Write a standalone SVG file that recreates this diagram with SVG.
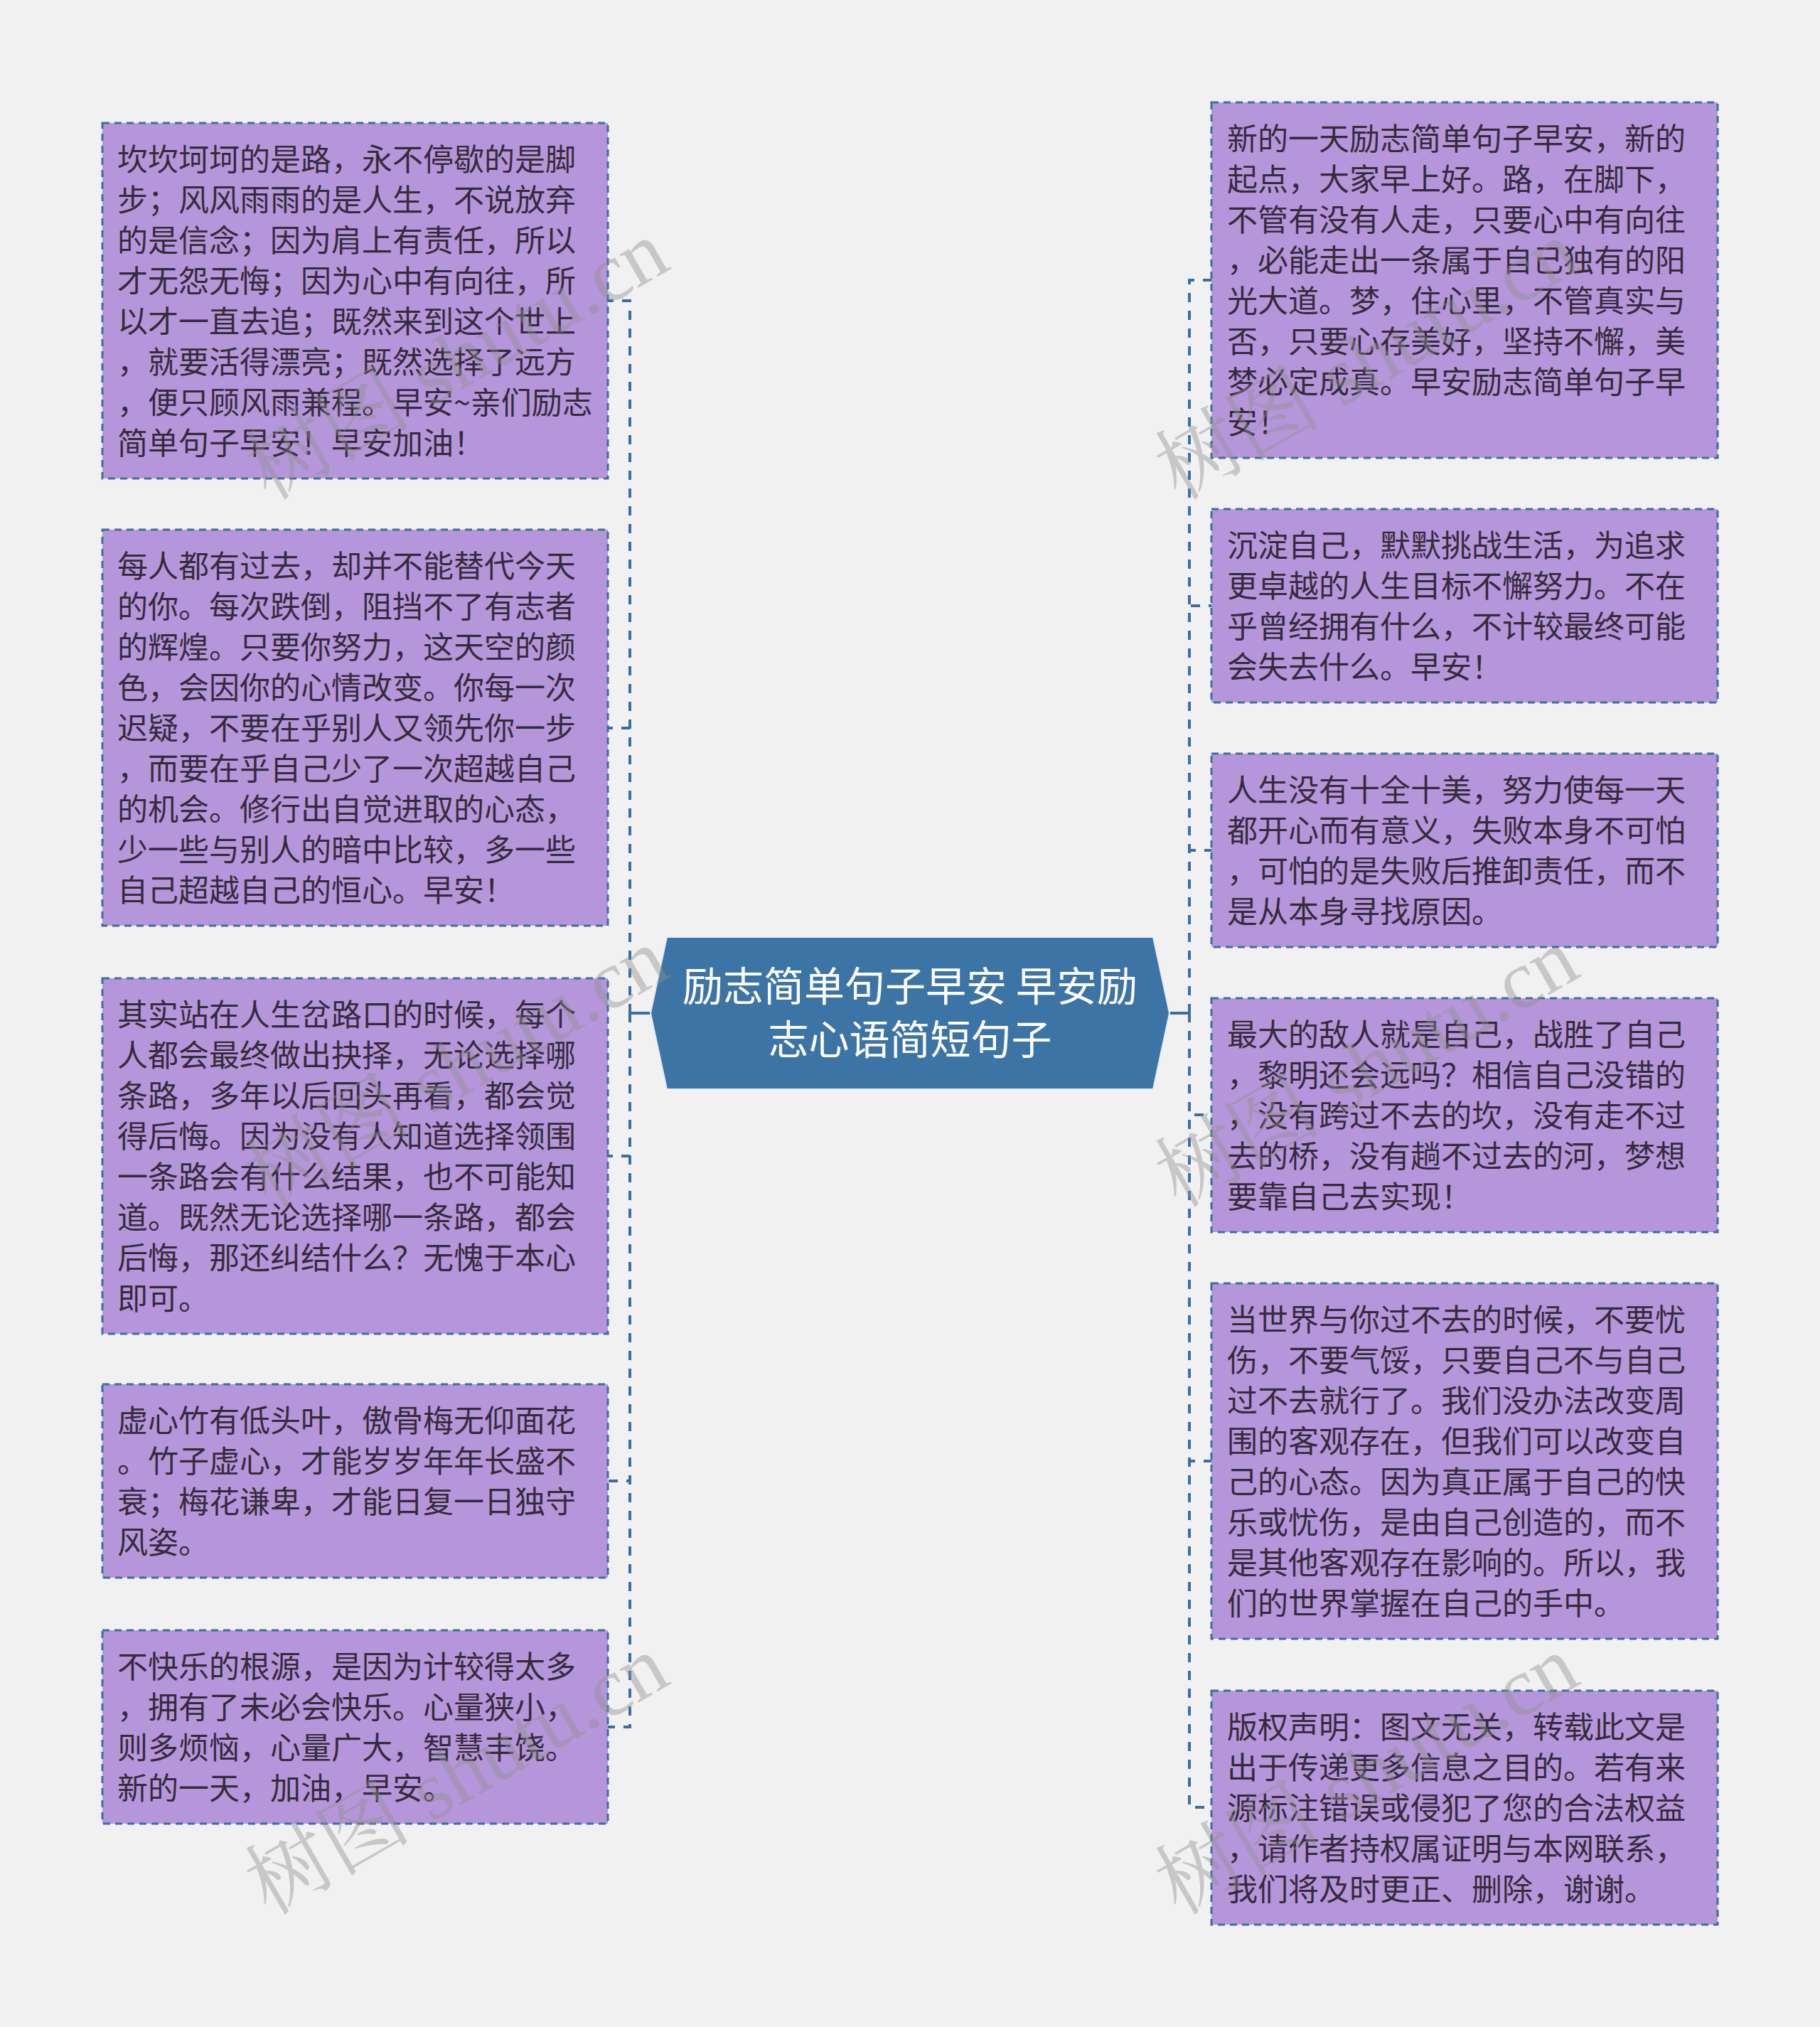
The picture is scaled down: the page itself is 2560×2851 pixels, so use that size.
<svg xmlns="http://www.w3.org/2000/svg" width="2560" height="2851" viewBox="0 0 2560 2851">
<style>
.bg{fill:#f1f1f1}
.node rect{fill:#b696da;stroke:#3d6f9e;stroke-width:3;stroke-dasharray:10 7}
.node text{font-family:"Noto Sans CJK SC","Noto Sans",sans-serif;font-size:43px;fill:#352b3c}
.center polygon{fill:#3d74a6;stroke:#e4edf5;stroke-width:2}
.center text{font-family:"Noto Sans CJK SC","Noto Sans",sans-serif;font-size:57px;fill:#ffffff;text-anchor:middle}
.conn path{fill:none;stroke:#3d6f9e;stroke-width:4;stroke-dasharray:13 12}
.conn .solid{stroke-dasharray:none}
.wm{font-family:"Liberation Serif","Noto Serif CJK SC","Noto Sans CJK SC",serif;font-size:117px;fill:#8f8f8f;opacity:0.42}
</style>
<rect class="bg" x="0" y="0" width="2560" height="2851"/>

<g id="connectors" class="conn">
<path class="solid" d="M915 1425 H886"/>
<path d="M886 1425 V423 H855"/>
<path d="M886 1425 V1024 H855"/>
<path d="M886 1425 V1626 H855"/>
<path d="M886 1425 V2083 H855"/>
<path d="M886 1425 V2429 H855"/>
<path class="solid" d="M1645 1425 H1673"/>
<path d="M1673 1425 V394 H1704"/>
<path d="M1673 1425 V852 H1704"/>
<path d="M1673 1425 V1196 H1704"/>
<path d="M1673 1425 V1568 H1704"/>
<path d="M1673 1425 V2055 H1704"/>
<path d="M1673 1425 V2542 H1704"/>
</g>

<g id="center" class="center">
<polygon points="915,1425 938,1318 1622,1318 1645,1425 1622,1532 938,1532"/>
<text x="1280" y="1408">励志简单句子早安 早安励</text>
<text x="1280" y="1483">志心语简短句子</text>
</g>

<g id="left1" class="node">
<rect x="144" y="173" width="711" height="500"/>
<text x="165" y="240">坎坎坷坷的是路，永不停歇的是脚</text>
<text x="165" y="297">步；风风雨雨的是人生，不说放弃</text>
<text x="165" y="354">的是信念；因为肩上有责任，所以</text>
<text x="165" y="411">才无怨无悔；因为心中有向往，所</text>
<text x="165" y="468">以才一直去追；既然来到这个世上</text>
<text x="165" y="525">，就要活得漂亮；既然选择了远方</text>
<text x="165" y="582">，便只顾风雨兼程。早安~亲们励志</text>
<text x="165" y="639">简单句子早安！早安加油！</text>
</g>

<g id="left2" class="node">
<rect x="144" y="745" width="711" height="557"/>
<text x="165" y="812">每人都有过去，却并不能替代今天</text>
<text x="165" y="869">的你。每次跌倒，阻挡不了有志者</text>
<text x="165" y="926">的辉煌。只要你努力，这天空的颜</text>
<text x="165" y="983">色，会因你的心情改变。你每一次</text>
<text x="165" y="1040">迟疑，不要在乎别人又领先你一步</text>
<text x="165" y="1097">，而要在乎自己少了一次超越自己</text>
<text x="165" y="1154">的机会。修行出自觉进取的心态，</text>
<text x="165" y="1211">少一些与别人的暗中比较，多一些</text>
<text x="165" y="1268">自己超越自己的恒心。早安！</text>
</g>

<g id="left3" class="node">
<rect x="144" y="1376" width="711" height="500"/>
<text x="165" y="1443">其实站在人生岔路口的时候，每个</text>
<text x="165" y="1500">人都会最终做出抉择，无论选择哪</text>
<text x="165" y="1557">条路，多年以后回头再看，都会觉</text>
<text x="165" y="1614">得后悔。因为没有人知道选择领围</text>
<text x="165" y="1671">一条路会有什么结果，也不可能知</text>
<text x="165" y="1728">道。既然无论选择哪一条路，都会</text>
<text x="165" y="1785">后悔，那还纠结什么？无愧于本心</text>
<text x="165" y="1842">即可。</text>
</g>

<g id="left4" class="node">
<rect x="144" y="1947" width="711" height="272"/>
<text x="165" y="2014">虚心竹有低头叶，傲骨梅无仰面花</text>
<text x="165" y="2071">。竹子虚心，才能岁岁年年长盛不</text>
<text x="165" y="2128">衰；梅花谦卑，才能日复一日独守</text>
<text x="165" y="2185">风姿。</text>
</g>

<g id="left5" class="node">
<rect x="144" y="2293" width="711" height="272"/>
<text x="165" y="2360">不快乐的根源，是因为计较得太多</text>
<text x="165" y="2417">，拥有了未必会快乐。心量狭小，</text>
<text x="165" y="2474">则多烦恼，心量广大，智慧丰饶。</text>
<text x="165" y="2531">新的一天，加油，早安。</text>
</g>

<g id="right1" class="node">
<rect x="1704" y="144" width="712" height="500"/>
<text x="1726" y="211">新的一天励志简单句子早安，新的</text>
<text x="1726" y="268">起点，大家早上好。路，在脚下，</text>
<text x="1726" y="325">不管有没有人走，只要心中有向往</text>
<text x="1726" y="382">，必能走出一条属于自己独有的阳</text>
<text x="1726" y="439">光大道。梦，住心里，不管真实与</text>
<text x="1726" y="496">否，只要心存美好，坚持不懈，美</text>
<text x="1726" y="553">梦必定成真。早安励志简单句子早</text>
<text x="1726" y="610">安！</text>
</g>

<g id="right2" class="node">
<rect x="1704" y="716" width="712" height="272"/>
<text x="1726" y="783">沉淀自己，默默挑战生活，为追求</text>
<text x="1726" y="840">更卓越的人生目标不懈努力。不在</text>
<text x="1726" y="897">乎曾经拥有什么，不计较最终可能</text>
<text x="1726" y="954">会失去什么。早安！</text>
</g>

<g id="right3" class="node">
<rect x="1704" y="1060" width="712" height="272"/>
<text x="1726" y="1127">人生没有十全十美，努力使每一天</text>
<text x="1726" y="1184">都开心而有意义，失败本身不可怕</text>
<text x="1726" y="1241">，可怕的是失败后推卸责任，而不</text>
<text x="1726" y="1298">是从本身寻找原因。</text>
</g>

<g id="right4" class="node">
<rect x="1704" y="1404" width="712" height="329"/>
<text x="1726" y="1471">最大的敌人就是自己，战胜了自己</text>
<text x="1726" y="1528">，黎明还会远吗？相信自己没错的</text>
<text x="1726" y="1585">，没有跨过不去的坎，没有走不过</text>
<text x="1726" y="1642">去的桥，没有趟不过去的河，梦想</text>
<text x="1726" y="1699">要靠自己去实现！</text>
</g>

<g id="right5" class="node">
<rect x="1704" y="1805" width="712" height="500"/>
<text x="1726" y="1872">当世界与你过不去的时候，不要忧</text>
<text x="1726" y="1929">伤，不要气馁，只要自己不与自己</text>
<text x="1726" y="1986">过不去就行了。我们没办法改变周</text>
<text x="1726" y="2043">围的客观存在，但我们可以改变自</text>
<text x="1726" y="2100">己的心态。因为真正属于自己的快</text>
<text x="1726" y="2157">乐或忧伤，是由自己创造的，而不</text>
<text x="1726" y="2214">是其他客观存在影响的。所以，我</text>
<text x="1726" y="2271">们的世界掌握在自己的手中。</text>
</g>

<g id="right6" class="node">
<rect x="1704" y="2378" width="712" height="329"/>
<text x="1726" y="2445">版权声明：图文无关，转载此文是</text>
<text x="1726" y="2502">出于传递更多信息之目的。若有来</text>
<text x="1726" y="2559">源标注错误或侵犯了您的合法权益</text>
<text x="1726" y="2616">，请作者持权属证明与本网联系，</text>
<text x="1726" y="2673">我们将及时更正、删除，谢谢。</text>
</g>

<g id="watermarks">
<text class="wm" transform="translate(378,705) rotate(-30)">树图 shutu.cn</text>
<text class="wm" transform="translate(1658,705) rotate(-30)">树图 shutu.cn</text>
<text class="wm" transform="translate(378,1700) rotate(-30)">树图 shutu.cn</text>
<text class="wm" transform="translate(1658,1700) rotate(-30)">树图 shutu.cn</text>
<text class="wm" transform="translate(378,2695) rotate(-30)">树图 shutu.cn</text>
<text class="wm" transform="translate(1658,2695) rotate(-30)">树图 shutu.cn</text>
</g>
</svg>
